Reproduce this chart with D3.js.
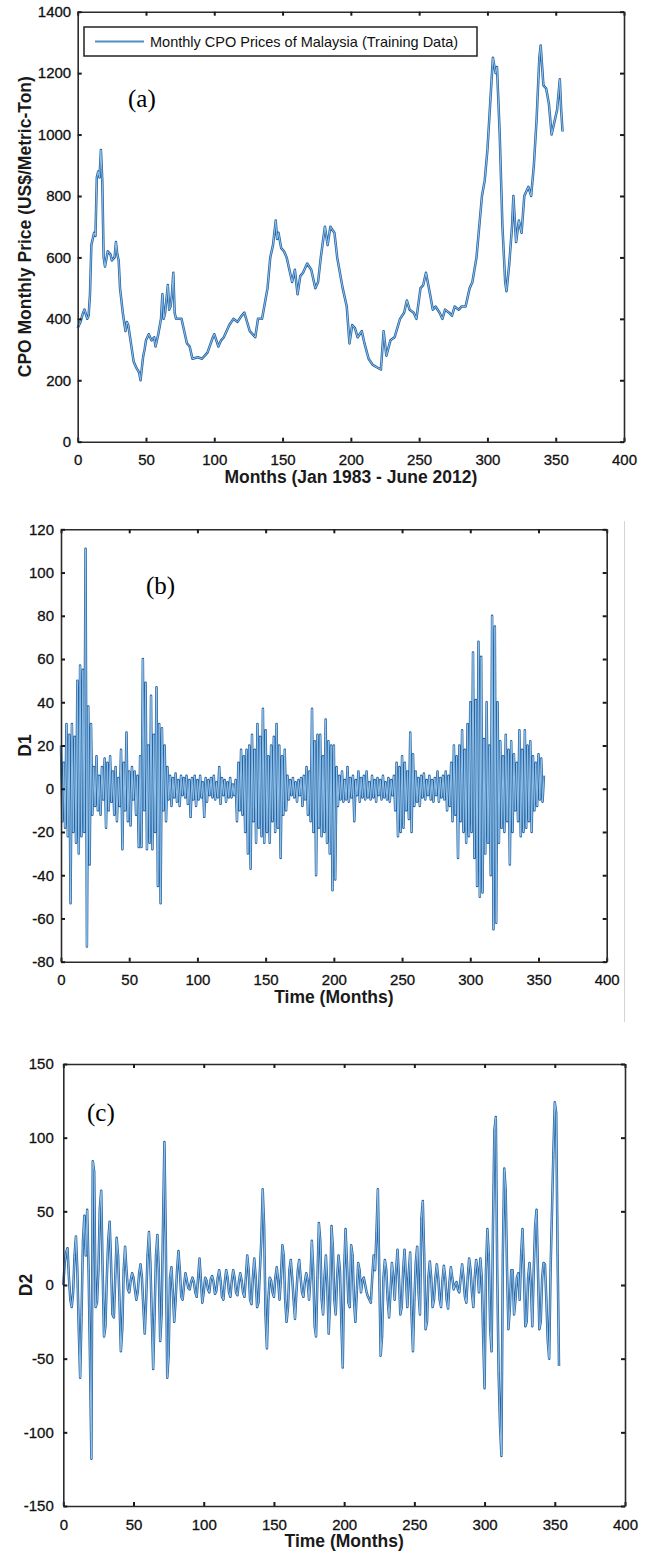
<!DOCTYPE html>
<html>
<head>
<meta charset="utf-8">
<script src="https://cdn.jsdelivr.net/npm/d3@7"></script>
<style>
body { margin: 0; background: #fff; }
svg { display: block; }
</style>
</head>
<body>
<svg id="chart" width="650" height="1555"></svg>
<script>
// ---- data ----
const monthTicks = [0, 50, 100, 150, 200, 250, 300, 350, 400];
const priceTicks = [0, 200, 400, 600, 800, 1000, 1200, 1400];
const d1Ticks = [-80, -60, -40, -20, 0, 20, 40, 60, 80, 100, 120];
const d2Ticks = [-150, -100, -50, 0, 50, 100, 150];

// (a) monthly CPO price, month index / US$ per metric ton
const cpoMonth = [0, 2, 4, 5, 7, 8, 9, 10, 11, 12, 13, 14, 15, 16, 17, 18, 19, 20, 22, 24,
  25, 27, 28, 29, 30, 31, 33, 35, 36, 37, 39, 41, 43, 45, 46, 47, 48, 49, 50, 52,
  54, 56, 57, 59, 61, 62, 63, 64, 66, 67, 68, 69, 70, 71, 72, 74, 76, 77, 80, 82,
  84, 88, 91, 95, 99, 100, 103, 105, 107, 111, 114, 117, 120, 122, 126, 130, 132, 135, 139, 141,
  143, 145, 146, 147, 149, 151, 153, 155, 157, 159, 161, 163, 165, 168, 171, 174, 176, 178, 181, 183,
  185, 188, 190, 194, 197, 199, 201, 203, 205, 208, 210, 213, 216, 220, 222, 224, 226, 229, 232, 236,
  239, 241, 243, 246, 248, 251, 253, 255, 258, 260, 262, 265, 267, 269, 272, 274, 276, 279, 281, 284,
  287, 289, 292, 294, 296, 298, 300, 302, 304, 306, 307, 309, 311, 313, 314, 316, 318, 319, 321, 323,
  325, 327, 330, 332, 334, 336, 338, 339, 341, 343, 345, 347, 349, 351, 353, 354, 355];
const cpoPrice = [370, 390, 420, 430, 400, 410, 480, 640, 660, 680, 670, 860, 880, 860, 950, 850, 600, 570, 620, 610,
  590, 600, 650, 610, 590, 500, 420, 360, 390, 380, 320, 260, 240, 225, 200, 240, 280, 300, 330, 350,
  330, 340, 310, 350, 400, 480, 400, 420, 510, 430, 440, 480, 550, 420, 400, 400, 400, 380, 320, 310,
  270, 275, 270, 290, 340, 350, 310, 330, 340, 380, 400, 390, 410, 420, 360, 340, 400, 400, 500, 600,
  640, 720, 660, 680, 630, 620, 600, 560, 520, 560, 480, 540, 550, 580, 560, 500, 520, 600, 700, 640,
  700, 680, 600, 500, 440, 320, 380, 370, 340, 360, 320, 270, 250, 240, 235, 360, 280, 330, 340, 400,
  420, 460, 430, 420, 400, 500, 510, 550, 480, 430, 440, 420, 400, 430, 420, 410, 440, 430, 440, 440,
  500, 520, 600, 700, 800, 850, 950, 1100, 1250, 1200, 1220, 1000, 700, 520, 490, 580, 700, 800, 650, 720,
  680, 800, 830, 800, 900, 1050, 1250, 1290, 1160, 1150, 1100, 1000, 1040, 1080, 1180, 1080, 1010];

// (b) D1 detail, one value per month
const d1 = [
  20, -15, 12, -18, 30, -22, 25, -53, 30, -20,
  24, -25, 50, -30, 57, -22, 55, -20, 111, -73,
  38, -35, 30, -12, 10, -8, 15, -10, 6, -12,
  10, -5, 14, -18, 12, -10, 15, -6, 8, -12,
  10, -15, 5, -8, 18, -28, 12, -10, 26, -15,
  8, -17, 10, -5, 8, -12, 6, -27, 15, -27,
  60, -10, 49, -28, 20, -25, 43, -28, 25, -20,
  47, -45, 30, -53, 28, -10, 20, -15, 10, -5,
  6, -8, 5, -4, 7, -6, 4, -8, 6, -3,
  5, -4, 6, -7, 4, -13, 5, -5, 6, -8,
  4, -5, 6, -4, 3, -13, 5, -6, 4, -3,
  5, -4, 6, -5, 3, -4, 10, -7, 5, -3,
  4, -6, 3, -4, 5, -4, 2, -3, 4, -15,
  12, -10, 18, -12, 15, -20, 18, -30, 20, -37,
  25, -15, 18, -25, 30, -18, 24, -22, 37, -25,
  27, -20, 15, -25, 20, -15, 24, -20, 30, -18,
  20, -32, 15, -12, 18, -10, 6, -5, 4, -3,
  5, -4, 3, -6, 4, -3, 5, -8, 6, -5,
  10, -12, 8, -15, 37, -20, 22, -40, 25, -18,
  25, -22, 15, -20, 32, -25, 22, -30, 20, -47,
  20, -42, 10, -8, 6, -5, 8, -6, 4, -5,
  10, -6, 5, -4, 6, -15, 4, -3, 8, -6,
  5, -4, 6, -5, 8, -4, 3, -5, 6, -4,
  4, -6, 5, -3, 4, -5, 6, -4, 3, -5,
  5, -6, 4, -3, 6, -10, 12, -22, 10, -20,
  15, -18, 12, -10, 8, -14, 26, -20, 16, -8,
  8, -6, 5, -8, 6, -4, 7, -5, 4, -3,
  6, -5, 4, -6, 5, -3, 8, -6, 5, -4,
  6, -5, 8, -10, 6, -8, 12, -15, 20, -12,
  15, -32, 20, -15, 27, -20, 18, -25, 30, -22,
  40, -20, 63, -32, 41, -45, 68, -50, 61, -48,
  23, -30, 40, -25, 20, -40, 80, -65, 75, -62,
  40, -25, 22, -18, 15, -20, 25, -15, 18, -35,
  22, -20, 16, -10, 12, -15, 27, -22, 18, -20,
  27, -18, 20, -15, 22, -20, 15, -10, 12, -8,
  16, -5, 14, -6, 6];

// (c) D2 detail, one value per month
const d2 = [
  0, 15, 22, 25, 5, -10, -15, -5, 20, 33,
  10, -30, -63, -20, 30, 47, 20, 51, 10, -50,
  -118, 84, 77, -15, -12, 10, 52, 64, 10, -35,
  -28, 5, 30, 43, 15, -20, -22, 5, 32, 20,
  -10, -45, -30, 10, 26, 10, -3, -5, 3, 8,
  5, -3, -10, -5, 8, 14, 5, -15, -33, -10,
  20, 36, 15, -20, -57, -20, 20, 34, 10, -38,
  -20, 40, 97, 30, -63, -48, 5, 12, -5, -25,
  -10, 10, 23, 10, -8, -10, 0, 8, 3, -2,
  -3, 2, 5, 2, -5, -8, 5, 18, 3, -12,
  -5, 5, 3, -3, -5, 4, 6, 2, -6, -4,
  5, 10, 3, -8, -10, 2, 10, 5, -5, -8,
  3, 10, 5, -5, -7, 2, 8, 3, -5, -8,
  5, 20, 10, -10, -13, 5, 18, 5, -15, -12,
  10, 30, 65, 40, -20, -43, -10, 5, 3, -5,
  -8, 5, 12, 3, -10, 5, 27, 20, -10, -25,
  -15, 10, 17, 5, -10, -23, -5, 10, 17, 5,
  -5, -8, 2, 8, 3, -10, 5, 30, 10, -28,
  -35, 5, 42, 30, -10, -20, 5, 20, 0, -33,
  -10, 40, 25, -10, -20, 5, 20, 10, -25, -56,
  10, 38, 15, -12, -15, 27, 20, -10, -25, -5,
  15, 10, -5, 3, 5, 0, -5, -8, -10, -12,
  5, 20, 10, 35, 65, 10, -48, -35, 5, 17,
  10, -10, -22, -5, 15, 5, -10, 10, 24, 5,
  -20, -15, 10, 24, 5, -15, 8, 22, -20, -45,
  -10, 15, 26, -5, -20, 45, 57, 20, -30, -25,
  5, 16, 5, -15, -10, 5, 14, 5, -10, -15,
  3, 13, 5, -10, -16, 2, 12, 5, -3, 0,
  2, -3, -5, 5, 14, 5, -8, -12, 5, 18,
  10, -5, -15, 5, 17, 10, -5, 18, 5, -35,
  -70, 10, 38, 20, -30, -45, 40, 105, 114, 10,
  -60, -95, -116, 20, 79, 65, 10, -30, -15, 10,
  10, -20, -10, 5, 8, -10, 20, 38, 10, -28,
  -25, 5, 15, 0, -28, 10, 40, 51, 10, -30,
  -25, 5, 15, 14, -10, -38, -50, 10, 50, 90,
  124, 117, 20, -55];

// ---- layout ----
const svg = d3.select("#chart");
const fontSans = "'Liberation Sans', Arial, Helvetica, sans-serif";

const panels = [
  {
    left: 77.7, right: 624, top: 11.7, bottom: 441.7,
    yDomain: [0, 1400], yTicks: priceTicks, yPad: 6.5,
    points: cpoMonth.map((m, i) => [m, cpoPrice[i]]),
    xLabel: "Months (Jan 1983 - June 2012)",
    yLabel: "CPO Monthly Price (US$/Metric-Ton)", yLabelX: 25,
    tag: "(a)", tagX: 128, tagY: 107
  },
  {
    left: 61, right: 606.7, top: 529.3, bottom: 961.7,
    yDomain: [-80, 120], yTicks: d1Ticks, yPad: 7,
    points: d1.map((v, i) => [i, v]),
    xLabel: "Time (Months)",
    yLabel: "D1", yLabelX: 25,
    tag: "(b)", tagX: 146, tagY: 594
  },
  {
    left: 63.3, right: 625, top: 1064, bottom: 1506,
    yDomain: [-150, 150], yTicks: d2Ticks, yPad: 9.5,
    points: d2.map((v, i) => [i, v]),
    xLabel: "Time (Months)",
    yLabel: "D2", yLabelX: 26,
    tag: "(c)", tagX: 87, tagY: 1121
  }
];

function styleAxis(sel) {
  sel.attr("font-family", fontSans).attr("font-size", 15);
  sel.select(".domain").attr("stroke", "#2b2b2b").attr("stroke-width", 1.6);
  sel.selectAll(".tick line").attr("stroke", "#1a1a1a").attr("stroke-width", 2);
  sel.selectAll(".tick text").attr("fill", "#111")
    .attr("stroke", "#111").attr("stroke-width", 0.3);
}

function drawPanel(p) {
  const x = d3.scaleLinear().domain([0, 400]).range([p.left, p.right]);
  const y = d3.scaleLinear().domain(p.yDomain).range([p.bottom, p.top]);
  const g = svg.append("g");

  const line = d3.line().x(d => x(d[0])).y(d => y(d[1]));

  // two strokes give the dark-edged, light-centred look of the scan
  g.append("path").datum(p.points)
    .attr("d", line)
    .attr("fill", "none")
    .attr("stroke", "#2563a2")
    .attr("stroke-width", 2.5)
    .attr("stroke-linejoin", "round");
  g.append("path").datum(p.points)
    .attr("d", line)
    .attr("fill", "none")
    .attr("stroke", "#92c1e8")
    .attr("stroke-width", 1)
    .attr("stroke-linejoin", "round");

  // frame with inward ticks on all four sides
  g.append("g")
    .attr("transform", `translate(0,${p.bottom})`)
    .call(d3.axisBottom(x).tickValues(monthTicks).tickSizeInner(-4).tickSizeOuter(0)
      .tickPadding(13).tickFormat(d => String(d)))
    .call(styleAxis);
  g.append("g")
    .attr("transform", `translate(0,${p.top})`)
    .call(d3.axisTop(x).tickValues(monthTicks).tickSizeInner(-4).tickSizeOuter(0).tickFormat(""))
    .call(styleAxis);
  g.append("g")
    .attr("transform", `translate(${p.left},0)`)
    .call(d3.axisLeft(y).tickValues(p.yTicks).tickSizeInner(-4).tickSizeOuter(0)
      .tickPadding(p.yPad).tickFormat(d => String(d)))
    .call(styleAxis);
  g.append("g")
    .attr("transform", `translate(${p.right},0)`)
    .call(d3.axisRight(y).tickValues(p.yTicks).tickSizeInner(-4).tickSizeOuter(0).tickFormat(""))
    .call(styleAxis);

  // axis titles
  g.append("text")
    .attr("x", (p.left + p.right) / 2)
    .attr("y", p.bottom + 41)
    .attr("text-anchor", "middle")
    .attr("font-family", fontSans)
    .attr("font-size", 17.5)
    .attr("font-weight", "bold")
    .attr("fill", "#1a1a1a")
    .text(p.xLabel);
  g.append("text")
    .attr("transform", `translate(${p.yLabelX},${(p.top + p.bottom) / 2}) rotate(-90)`)
    .attr("text-anchor", "middle")
    .attr("dy", "0.35em")
    .attr("font-family", fontSans)
    .attr("font-size", 17.5)
    .attr("font-weight", "bold")
    .attr("fill", "#1a1a1a")
    .text(p.yLabel);

  // panel tag
  g.append("text")
    .attr("x", p.tagX)
    .attr("y", p.tagY)
    .attr("font-family", "'Liberation Serif', 'Times New Roman', serif")
    .attr("font-size", 25)
    .attr("fill", "#000")
    .text(p.tag);

  return g;
}

const gA = drawPanel(panels[0]);
drawPanel(panels[1]);
drawPanel(panels[2]);

// legend of panel (a)
const legend = gA.append("g");
legend.append("rect")
  .attr("x", 84).attr("y", 27)
  .attr("width", 393).attr("height", 29)
  .attr("fill", "#fff")
  .attr("stroke", "#222")
  .attr("stroke-width", 1.5);
legend.append("line")
  .attr("x1", 95).attr("x2", 144)
  .attr("y1", 41.5).attr("y2", 41.5)
  .attr("stroke", "#4f8fc9")
  .attr("stroke-width", 2);
legend.append("text")
  .attr("x", 150).attr("y", 46.6)
  .attr("font-family", fontSans)
  .attr("font-size", 14.5)
  .attr("fill", "#111")
  .text("Monthly CPO Prices of Malaysia (Training Data)");

// faint vertical scan edge beside panel (b)
svg.append("line")
  .attr("x1", 624.5).attr("x2", 624.5)
  .attr("y1", 521).attr("y2", 1022)
  .attr("stroke", "#d4d4d4")
  .attr("stroke-width", 1);
</script>
</body>
</html>
